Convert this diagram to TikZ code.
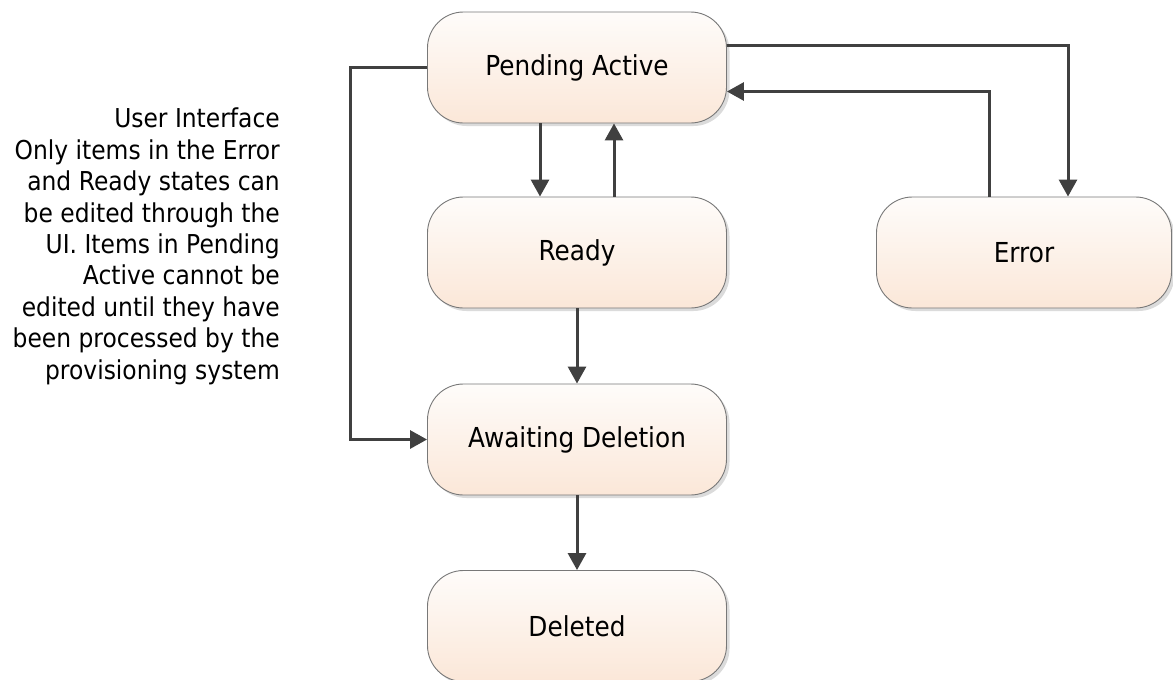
\documentclass[tikz,border=0pt]{standalone}
\usepackage{fontspec}
\setmainfont{DejaVu Sans}[FakeStretch=0.9]
\usetikzlibrary{arrows.meta,shadows}
\definecolor{boxtop}{RGB}{254,252,250}
\definecolor{boxbot}{RGB}{251,231,216}
\definecolor{boxline}{RGB}{120,120,120}
\definecolor{wirecol}{RGB}{64,64,64}
\tikzset{
  state/.style={rectangle, rounded corners=36pt, draw=boxline, line width=0.9pt,
    top color=boxtop, bottom color=boxbot, minimum width=299pt, minimum height=111pt,
    drop shadow={shadow xshift=3pt, shadow yshift=-3pt, fill=black!35, opacity=0.4},
    font=\fontsize{27.5}{32}\selectfont},
  wire/.style={draw=wirecol, line width=3pt, -{Triangle[length=17pt,width=18pt]}}
}

\begin{document}
\begin{tikzpicture}[x=1pt, y=-1pt]
		%%%%% START %%%%%
		\useasboundingbox (0,0) rectangle (1173,680);
		
		\node[state] (pend) at (577,67.5) {Pending Active};
		\node[state] (ready) at (577,252.5) {Ready};
		\node[state] (await) at (577,439.5) {Awaiting Deletion};
		\node[state] (del) at (577,626) {Deleted};
		\node[state, minimum width=295pt] (err) at (1024,252.5) {Error};
		
		\node[anchor=north east, align=right, inner sep=0pt, font=\fontsize{26}{31.4}\selectfont] (ui) at (280,108)
		  {User Interface\\Only items in the Error\\and Ready states can\\be edited through the\\UI. Items in Pending\\Active cannot be\\edited until they have\\been processed by the\\provisioning system};
		
		\draw[wire] ([xshift=-37pt]pend.south) -- ([xshift=-37pt]ready.north);
		\draw[wire] ([xshift=37pt]ready.north) -- ([xshift=37pt]pend.south);
		\draw[wire] (ready.south) -- (await.north);
		\draw[wire] (await.south) -- (del.north);
		
		\draw[wire] (pend.west) -- ++(-77,0) |- (await.west);
		\draw[wire] ([yshift=22pt]pend.east) -| ([xshift=44pt]err.north);
		\draw[wire] ([xshift=-35pt]err.north) |- ([yshift=-24pt]pend.east);
		
		%%%%% END %%%%%
\end{tikzpicture}
\end{document}
